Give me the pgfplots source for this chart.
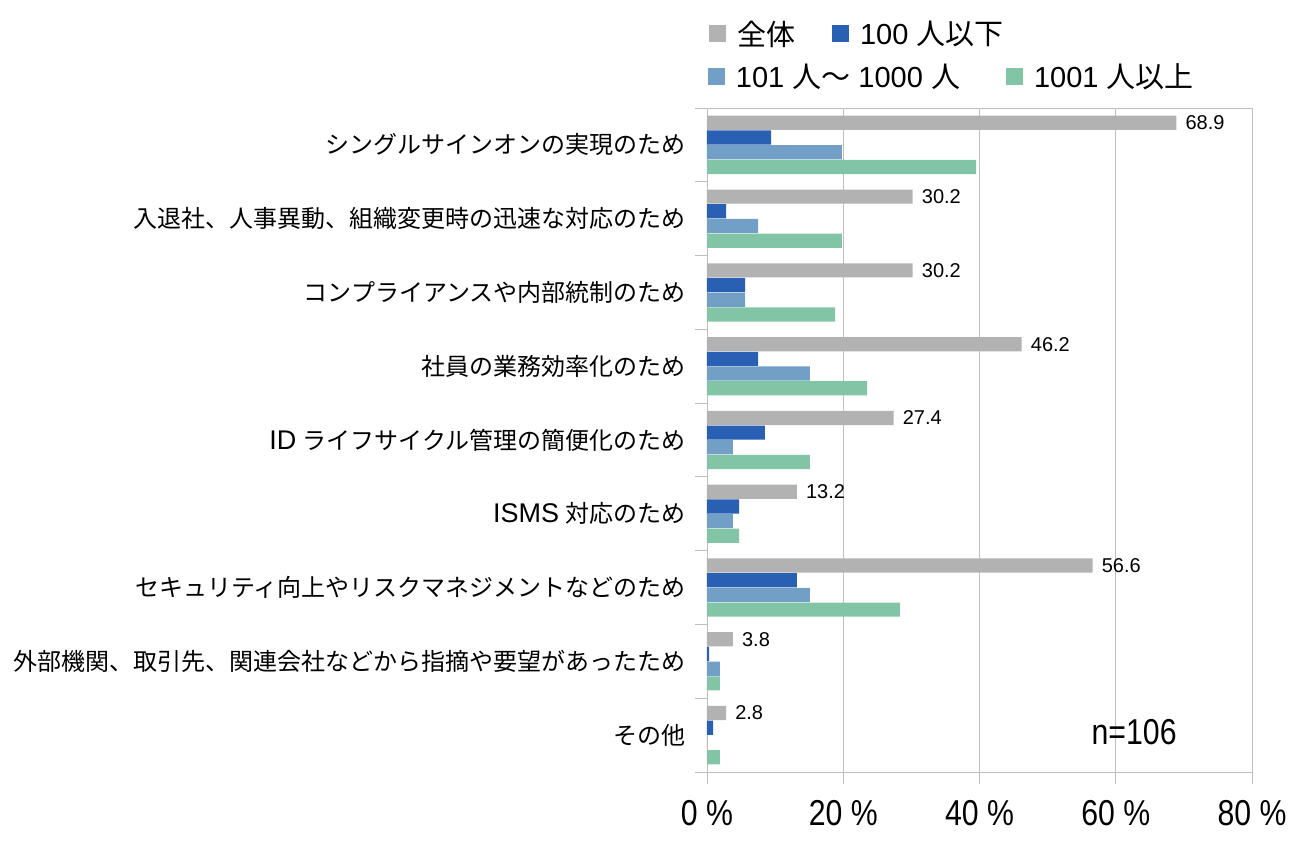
\documentclass[border=0pt]{standalone}
\usepackage{fontspec}
\setmainfont{Liberation Sans}
\newfontfamily\cjk{Noto Sans CJK JP}
\newfontfamily\narrow{Liberation Sans}[FakeStretch=0.84]
\usepackage{pgfplots}
\pgfplotsset{compat=1.18}
\definecolor{cgray}{RGB}{178,178,178}
\definecolor{cblue}{RGB}{42,96,180}
\definecolor{clblue}{RGB}{114,159,198}
\definecolor{cgreen}{RGB}{129,197,166}
\definecolor{cframe}{RGB}{190,190,190}
\newcommand{\lat}[1]{{\fontsize{27}{27}\selectfont #1}}
\pgfplotsset{
  mylegend/.style={
    legend image code/.code={\fill[##1] (0pt,-8.5pt) rectangle (17pt,8.5pt);},
    legend style={draw=none, fill=none, inner sep=0pt, outer sep=0pt,
      font=\fontsize{29}{31}\selectfont,
      nodes={inner sep=0pt, anchor=west}},
  }
}
\begin{document}
\begin{tikzpicture}
\begin{axis}[
  at={(707pt,69pt)}, anchor=south west,
  scale only axis, width=545pt, height=664pt,
  xbar, bar width=14.2pt,
  xmin=0, xmax=80, ymin=0.5, ymax=9.5,
  axis line style={cframe},
  xtick={0,20,40,60,80},
  xticklabels={0~\%,20~\%,40~\%,60~\%,80~\%},
  xticklabel style={font=\fontsize{36}{36}\narrow, inner sep=0pt, yshift=-16pt},
  xmajorgrids, grid style={cframe, line width=0.8pt},
  tick align=outside, major tick length=12pt, tick pos=left,
  tick style={cframe, line width=0.8pt},
  ytick={0.5,1.5,...,9.5}, yticklabels={},
  extra y ticks={1,2,3,4,5,6,7,8,9},
  extra y tick labels={
    {\cjk その他},
    {\cjk 外部機関、取引先、関連会社などから指摘や要望があったため},
    {\cjk セキュリティ向上やリスクマネジメントなどのため},
    {\lat{ISMS} {\cjk 対応のため}},
    {\lat{ID} {\cjk ライフサイクル管理の簡便化のため}},
    {\cjk 社員の業務効率化のため},
    {\cjk コンプライアンスや内部統制のため},
    {\cjk 入退社、人事異動、組織変更時の迅速な対応のため},
    {\cjk シングルサインオンの実現のため}},
  extra y tick style={tick style={draw=none}, grid=none,
    yticklabel style={font=\fontsize{24}{24}\selectfont, inner sep=0pt, xshift=-9pt}},
  mylegend,
  legend columns=2,
  legend style={at={(0.0037,1.112)}, anchor=west,
    /tikz/every odd column/.append style={column sep=11pt},
    /tikz/every even column/.append style={column sep=37pt}},
  clip=false,
]
\addplot[fill=cgray, draw=none, bar shift=22.05pt, point meta=x,
  nodes near coords={\pgfmathprintnumber[fixed,fixed zerofill,precision=1,assume math mode=true]{\pgfplotspointmeta}},
  nodes near coords style={font=\fontsize{20}{20}\selectfont, anchor=west, inner sep=0pt, xshift=9pt, black}]
  coordinates {(68.9,9) (30.2,8) (30.2,7) (46.2,6) (27.4,5) (13.2,4) (56.6,3) (3.8,2) (2.8,1)};
\addlegendentry{\cjk 全体}
\addplot[fill=cblue, draw=none, bar shift=7.35pt]
  coordinates {(9.4,9) (2.8,8) (5.6,7) (7.5,6) (8.5,5) (4.7,4) (13.2,3) (0.3,2) (0.9,1)};
\addlegendentry{100 {\cjk 人以下}}
\addplot[fill=clblue, draw=none, bar shift=-7.35pt]
  coordinates {(19.8,9) (7.5,8) (5.6,7) (15.1,6) (3.8,5) (3.8,4) (15.1,3) (1.9,2) (0,1)};
\addplot[fill=cgreen, draw=none, bar shift=-22.05pt]
  coordinates {(39.5,9) (19.8,8) (18.8,7) (23.5,6) (15.1,5) (4.7,4) (28.3,3) (1.9,2) (1.9,1)};
\node[font=\fontsize{36}{36}\narrow, inner sep=0pt] at (axis cs:62.7,1.04) {n=106};
\end{axis}
\begin{axis}[
  at={(707pt,69pt)}, anchor=south west,
  scale only axis, width=545pt, height=664pt,
  xmin=0, xmax=1, ymin=0, ymax=1, hide axis,
  mylegend,
  legend columns=2,
  legend style={at={(0.0018,1.0475)}, anchor=west,
    /tikz/every odd column/.append style={column sep=11pt},
    /tikz/every even column/.append style={column sep=46pt}},
]
\addplot[draw=none, forget plot] coordinates {(0,0)};
\addlegendimage{fill=clblue, draw=none}
\addlegendentry{101 {\cjk 人〜} 1000 {\cjk 人}}
\addlegendimage{fill=cgreen, draw=none}
\addlegendentry{1001 {\cjk 人以上}}
\end{axis}
\pgfresetboundingbox
\path[use as bounding box] (0pt,0pt) rectangle (1304pt,841pt);
\end{tikzpicture}
\end{document}
